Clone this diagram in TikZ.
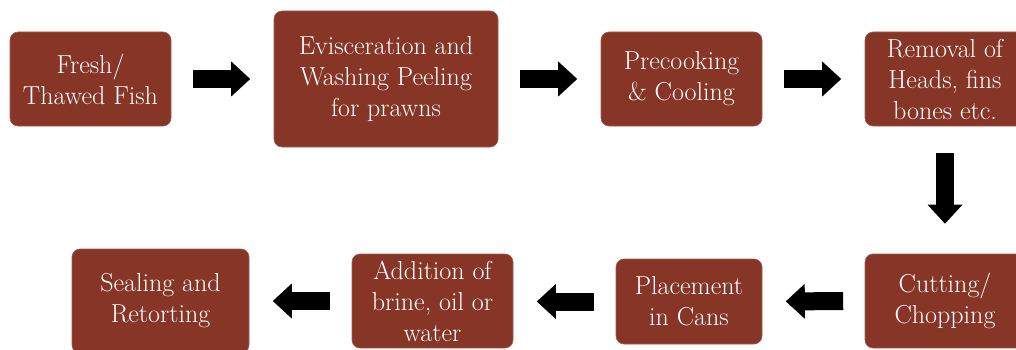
\documentclass[tikz,border=0pt]{standalone}
\usepackage{fontspec}
\usetikzlibrary{arrows.meta}
\definecolor{boxbrown}{RGB}{134,53,38}
\tikzset{
  stepbox/.style={fill=boxbrown, draw=boxbrown!80!white, line width=0.6pt, rounded corners=8pt,
    text=white, align=center, inner sep=0pt, font=\fontsize{26}{31}\selectfont},
  bigarrow/.style={draw=black, line width=18pt,
    -{Triangle[length=19pt,width=35pt,line width=0pt]}},
  harrow/.style={bigarrow, shorten <=21.5pt, shorten >=23.5pt},
}
\begin{document}
\begin{tikzpicture}[x=1pt,y=-1pt]
\useasboundingbox (0,0) rectangle (1016,350);
\node[stepbox, minimum width=161pt, minimum height=94pt] (b1) at (90.5,79) {Fresh/\\Thawed Fish};
\node[stepbox, minimum width=224pt, minimum height=136pt] (b2) at (386,79) {Evisceration and\\Washing Peeling\\for prawns};
\node[stepbox, minimum width=161pt, minimum height=94pt] (b3) at (681.5,79) {Precooking\\\& Cooling};
\node[stepbox, minimum width=160pt, minimum height=94pt] (b4) at (945,79) {Removal of\\Heads, fins\\bones etc.};
\node[stepbox, minimum width=160pt, minimum height=94pt] (b5) at (945,301) {Cutting/\\Chopping};
\node[stepbox, minimum width=146pt, minimum height=85pt] (b6) at (689,301.5) {Placement\\in Cans};
\node[stepbox, minimum width=161pt, minimum height=94pt] (b7) at (432.5,301) {Addition of\\brine, oil or\\water};
\node[stepbox, minimum width=177pt, minimum height=104pt] (b8) at (160.5,301) {Sealing and\\Retorting};
\draw[harrow] (b1.east) -- (b2.west);
\draw[harrow] (b2.east |- b1.east) -- (b3.west);
\draw[harrow] (b3.east) -- (b4.west);
\draw[bigarrow, shorten <=27pt, shorten >=30pt] (b4.south) -- (b5.north);
\draw[harrow] (b5.west) -- (b6.west -| b6.east);
\draw[harrow] (b6.west) -- (b7.east |- b6.west);
\draw[harrow] (b7.west) -- (b8.east |- b7.west);
\end{tikzpicture}
\end{document}
